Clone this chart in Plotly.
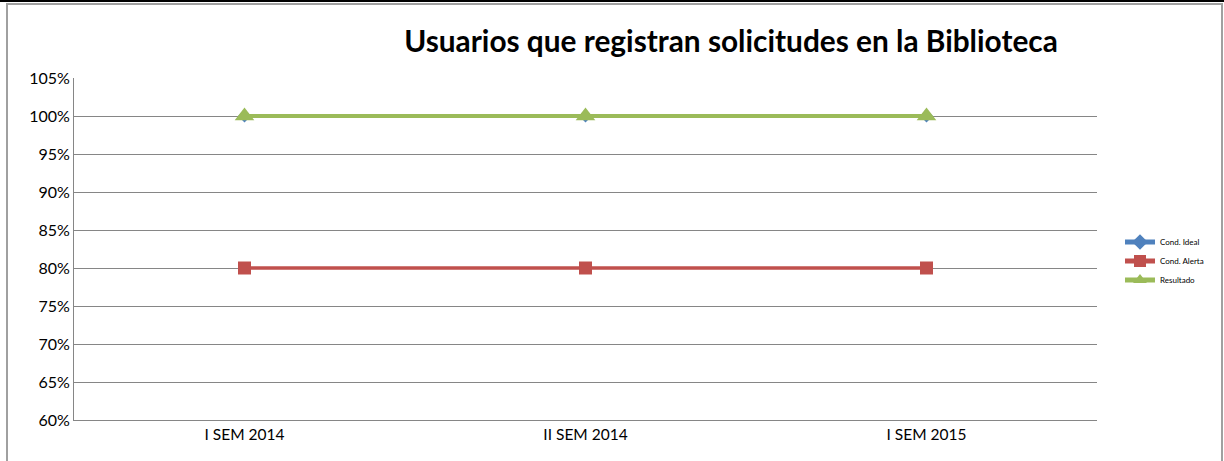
import plotly.graph_objects as go

categories = ["I SEM 2014", "II SEM 2014", "I SEM 2015"]
cond_ideal = [1.00, 1.00, 1.00]
cond_alerta = [0.80, 0.80, 0.80]
resultado = [1.00, 1.00, 1.00]
y_ticks = [0.60, 0.65, 0.70, 0.75, 0.80, 0.85, 0.90, 0.95, 1.00, 1.05]
y_tick_labels = ["60%", "65%", "70%", "75%", "80%", "85%", "90%", "95%", "100%", "105%"]

W, H = 1224, 461
L, R, T, B = 74, 127, 78, 41
pw, ph = W - L - R, H - T - B

def px_x(p):
    return (p - L) / pw

def px_y(p):
    return (H - B - p) / ph

fig = go.Figure()
fig.add_trace(go.Scatter(x=categories, y=cond_ideal, name="Cond. Ideal", mode="lines+markers",
                         line=dict(color="#4F81BD", width=3.5),
                         marker=dict(symbol="diamond", size=10, color="#4F81BD")))
fig.add_trace(go.Scatter(x=categories, y=cond_alerta, name="Cond. Alerta", mode="lines+markers",
                         line=dict(color="#C0504D", width=3.5),
                         marker=dict(symbol="square", size=13, color="#C0504D")))
fig.add_trace(go.Scatter(x=categories, y=resultado, name="Resultado", mode="lines+markers",
                         line=dict(color="#9BBB59", width=4),
                         marker=dict(symbol="triangle-up", size=17, color="#9BBB59")))

fig.update_layout(
    width=W, height=H,
    margin=dict(l=L, r=R, t=T, b=B),
    paper_bgcolor="white", plot_bgcolor="white",
    font=dict(family="Lato, Carlito, sans-serif", color="black", size=15),
    title=dict(text="<b>Usuarios que registran solicitudes en la Biblioteca</b>",
               x=px_x(731), xref="paper", xanchor="center",
               y=1 - 42 / H, yanchor="middle",
               font=dict(size=29.8, color="black")),
    xaxis=dict(range=[-0.5, 2.5], showgrid=False, showline=True, linecolor="#868686",
               linewidth=1, ticks="", tickfont=dict(size=15.5), zeroline=False),
    yaxis=dict(range=[0.60, 1.05], tickvals=y_ticks, ticktext=y_tick_labels,
               showgrid=True, gridcolor="#868686", gridwidth=1, showline=True,
               linecolor="#868686", linewidth=1, ticks="", zeroline=False,
               tickfont=dict(size=16)),
    legend=dict(x=px_x(1120), xanchor="left", y=px_y(261), yanchor="middle",
                font=dict(size=8, color="black"), bgcolor="rgba(0,0,0,0)",
                tracegroupgap=0, itemsizing="constant"),
    showlegend=True,
)

# Outer chart border
fig.add_shape(type="rect", xref="paper", yref="paper",
              x0=px_x(7), x1=px_x(1222), y0=px_y(4), y1=px_y(500),
              line=dict(color="#A0A0A0", width=2), fillcolor="rgba(0,0,0,0)", layer="below")
fig.add_shape(type="line", xref="paper", yref="paper",
              x0=px_x(0), x1=px_x(1224), y0=px_y(1), y1=px_y(1),
              line=dict(color="black", width=2))

fig.write_html("out.html", config={"displayModeBar": False},
               post_script="document.body.style.margin='0';document.body.style.overflow='hidden';")
